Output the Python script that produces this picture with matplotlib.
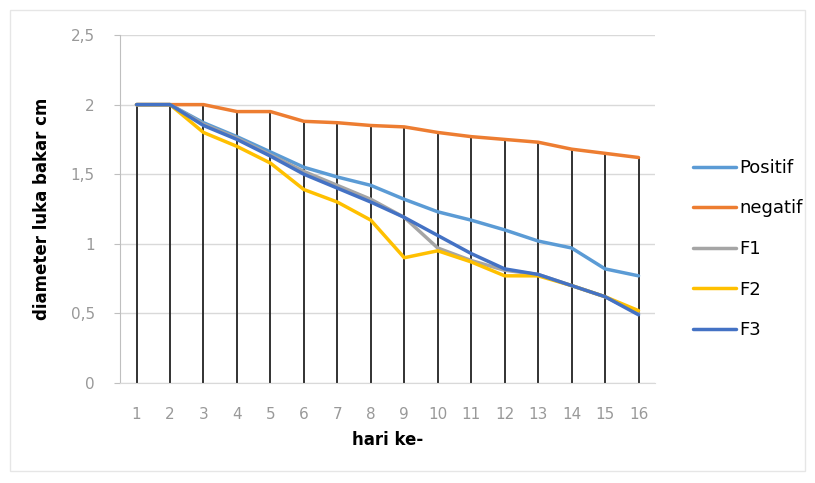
import matplotlib
matplotlib.use("Agg")
import matplotlib.pyplot as plt
from matplotlib.patches import Rectangle
import numpy as np

days = list(range(1, 17))
positif = [2.0, 2.0, 1.87, 1.77, 1.66, 1.55, 1.48, 1.42, 1.32, 1.23, 1.17, 1.10, 1.02, 0.97, 0.82, 0.77]
negatif = [2.0, 2.0, 2.0, 1.95, 1.95, 1.88, 1.87, 1.85, 1.84, 1.80, 1.77, 1.75, 1.73, 1.68, 1.65, 1.62]
f1 = [2.0, 2.0, 1.86, 1.76, 1.64, 1.52, 1.42, 1.32, 1.19, 0.97, 0.88, 0.81, 0.78, 0.70, 0.62, 0.50]
f2 = [2.0, 2.0, 1.80, 1.70, 1.58, 1.39, 1.30, 1.17, 0.90, 0.95, 0.87, 0.77, 0.77, 0.70, 0.62, 0.52]
f3 = [2.0, 2.0, 1.85, 1.75, 1.63, 1.50, 1.40, 1.30, 1.19, 1.06, 0.93, 0.82, 0.78, 0.70, 0.62, 0.49]
series_names = ["Positif", "negatif", "F1", "F2", "F3"]
y_ticks = [0, 0.5, 1, 1.5, 2, 2.5]
y_tick_labels = ["0", "0,5", "1", "1,5", "2", "2,5"]

colors = ["#5B9BD5", "#ED7D31", "#A5A5A5", "#FFC000", "#4472C4"]

fig = plt.figure(figsize=(8.15, 4.83), dpi=100)
fig.patches.append(Rectangle((0.012, 0.025), 0.976, 0.955, transform=fig.transFigure,
                             fill=False, edgecolor="#e6e6e6", lw=1))
ax = fig.add_axes([0.147, 0.207, 0.657, 0.7205])

# drop lines from max value to axis
all_series = [positif, negatif, f1, f2, f3]
maxvals = np.max(np.array(all_series), axis=0)
ax.vlines(days, 0, maxvals, colors="#222222", lw=1.3, zorder=2)

for s, name, c in zip(all_series, series_names, colors):
    ax.plot(days, s, color=c, lw=2.5, label=name, zorder=3, solid_capstyle="round")

ax.set_xlim(0.5, 16.5)
ax.set_ylim(0, 2.5)
ax.set_yticks(y_ticks)
ax.set_yticklabels(y_tick_labels)
ax.set_xticks(days)
ax.set_xticklabels([str(d) for d in days])
ax.yaxis.grid(True, color="#d9d9d9", lw=1)
ax.set_axisbelow(True)
for sp in ["top", "right"]:
    ax.spines[sp].set_visible(False)
ax.spines["left"].set_color("#bfbfbf")
ax.spines["bottom"].set_color("#d9d9d9")
ax.tick_params(axis="both", colors="#bfbfbf", labelcolor="#999999", labelsize=11, length=4)
ax.tick_params(axis="y", pad=14)
ax.tick_params(axis="x", length=0, pad=17)

ax.set_xlabel("hari ke-", fontsize=12, fontweight="bold", labelpad=7)
ax.set_ylabel("diameter luka bakar cm", fontsize=12, fontweight="bold", labelpad=14)

leg = ax.legend(loc="center left", bbox_to_anchor=(1.04, 0.385), frameon=False,
                fontsize=13, handlelength=2.4, handletextpad=0.15, labelspacing=1.25)

fig.savefig("out.png", dpi=100)
